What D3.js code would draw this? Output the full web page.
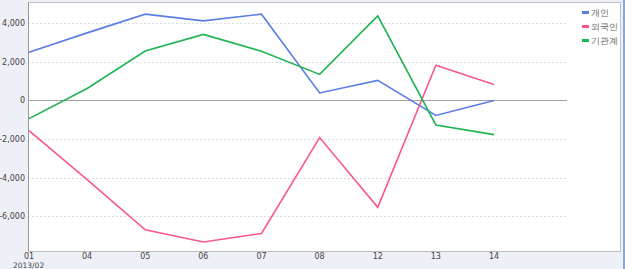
<!DOCTYPE html>
<html>
<head>
<meta charset="utf-8">
<style>
  body { margin: 0; background: #eef0f8; }
  svg { display: block; }
  text { font-family: "DejaVu Sans", sans-serif; }
</style>
<script src="https://cdn.jsdelivr.net/npm/d3@7"></script>
</head>
<body>
<script>
// data
var days = ["01", "04", "05", "06", "07", "08", "12", "13", "14"];
var individual = [2500, 3500, 4470, 4120, 4470, 390, 1040, -780, 0];
var foreign = [-1560, -4100, -6700, -7330, -6890, -1920, -5540, 1820, 830];
var institution = [-940, 620, 2560, 3420, 2550, 1350, 4380, -1270, -1770];
var yTicks = [-6000, -4000, -2000, 0, 2000, 4000];
var seriesNames = ["개인", "외국인", "기관계"];
var colors = ["#5a7ee6", "#fa5790", "#1fb451"];

var width = 625, height = 269;
var plotLeft = 28, plotRight = 620, plotTop = 2, plotBottom = 251, gridEnd = 567;

var svg = d3.select("body").append("svg")
  .attr("width", width)
  .attr("height", height);

// right edge blue strip
svg.append("rect").attr("x", 623).attr("y", 0).attr("width", 2).attr("height", height).attr("fill", "#8fa6d8");

svg.append("rect")
  .attr("x", plotLeft + 0.5).attr("y", plotTop + 0.5)
  .attr("width", plotRight - plotLeft).attr("height", plotBottom - plotTop)
  .attr("fill", "#fff")
  .attr("stroke", "#c4c4c4");

var x = d3.scalePoint().domain(days).range([29, 494]);
var y = d3.scaleLinear().domain([-7800, 5100]).range([plotBottom, plotTop]);

// grid
svg.selectAll("line.grid")
  .data(yTicks.filter(function(d) { return d != 0; }))
  .enter().append("line")
    .attr("class", "grid")
    .attr("x1", plotLeft).attr("x2", gridEnd)
    .attr("y1", function(d) { return Math.round(y(d)) + 0.5; })
    .attr("y2", function(d) { return Math.round(y(d)) + 0.5; })
    .attr("stroke", "#dcdcdc")
    .attr("stroke-dasharray", "2,2");

svg.append("line")
  .attr("x1", plotLeft).attr("x2", gridEnd)
  .attr("y1", Math.round(y(0)) + 0.5).attr("y2", Math.round(y(0)) + 0.5)
  .attr("stroke", "#a0a0a0");

// axes lines
svg.append("line").attr("x1", plotLeft + 0.5).attr("x2", plotLeft + 0.5).attr("y1", plotTop).attr("y2", plotBottom)
  .attr("stroke", "#9a9a9a");
svg.append("line").attr("x1", plotLeft).attr("x2", plotRight).attr("y1", plotBottom + 0.5).attr("y2", plotBottom + 0.5)
  .attr("stroke", "#bdbdbd");

// y labels
svg.selectAll("text.ylab")
  .data(yTicks)
  .enter().append("text")
    .attr("class", "ylab")
    .attr("x", 25)
    .attr("y", function(d) { return y(d) + 3; })
    .attr("text-anchor", "end")
    .attr("font-size", 8)
    .attr("fill", "#444")
    .text(function(d) { return d3.format(",")(d).replace("−", "-"); });

// x labels
svg.selectAll("text.xlab")
  .data(days)
  .enter().append("text")
    .attr("class", "xlab")
    .attr("x", function(d) { return x(d); })
    .attr("y", 259)
    .attr("text-anchor", "middle")
    .attr("font-size", 8)
    .attr("fill", "#444")
    .text(function(d) { return d; });

svg.append("text")
  .attr("x", 13).attr("y", 268)
  .attr("font-size", 7.5).attr("fill", "#444")
  .text("2013/02");

// lines
var line = d3.line()
  .x(function(d, i) { return x(days[i]); })
  .y(function(d) { return y(d); });

[individual, foreign, institution].forEach(function(s, i) {
  svg.append("path")
    .attr("d", line(s))
    .attr("fill", "none")
    .attr("stroke", colors[i])
    .attr("stroke-width", 1.6);
});

// legend
var legend = svg.selectAll("g.legend")
  .data(seriesNames)
  .enter().append("g")
    .attr("class", "legend")
    .attr("transform", function(d, i) { return "translate(582," + (13 + i * 14) + ")"; });

legend.append("rect")
  .attr("x", 0).attr("y", -2)
  .attr("width", 7).attr("height", 3)
  .attr("fill", function(d, i) { return colors[i]; });

legend.append("text")
  .attr("x", 9).attr("y", 3)
  .attr("font-size", 9)
  .attr("font-family", "'Noto Sans CJK KR', sans-serif")
  .attr("fill", "#666")
  .text(function(d) { return d; });
</script>
</body>
</html>
